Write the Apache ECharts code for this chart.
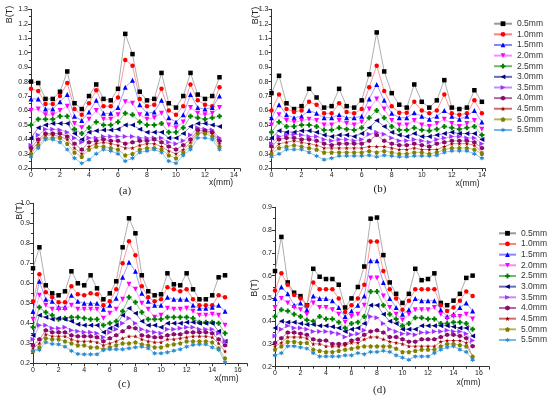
<!DOCTYPE html>
<html><head><meta charset="utf-8">
<script src="https://cdn.jsdelivr.net/npm/echarts@6/dist/echarts.min.js"></script>
<style>html,body{margin:0;padding:0;background:#fff}#c{width:550px;height:398px}</style>
</head><body><div id="c"></div>
<script>
const names = ['0.5mm','1.0mm','1.5mm','2.0mm','2.5mm','3.0mm','3.5mm','4.0mm','4.5mm','5.0mm','5.5mm'];

const xA = [0,0.5,1,1.5,2,2.5,3,3.5,4,4.5,5,5.5,6,6.5,7,7.5,8,8.5,9,9.5,10,10.5,11,11.5,12,12.5,13];
const xB = [0,0.5,1,1.5,2,2.5,3,3.5,4,4.5,5,5.5,6,6.5,7,7.5,8,8.5,9,9.5,10,10.5,11,11.5,12,12.5,13,13.5,14];
const xC = [0,0.5,1,1.5,2,2.5,3,3.5,4,4.5,5,5.5,6,6.5,7,7.5,8,8.5,9,9.5,10,10.5,11,11.5,12,12.5,13,13.5,14,14.5,15];
const xD = [0,0.5,1,1.5,2,2.5,3,3.5,4,4.5,5,5.5,6,6.5,7,7.5,8,8.5,9,9.5,10,10.5,11,11.5,12,12.5,13,13.5,14,14.5,15,15.5];

// panel (a)
const a05 = [0.80,0.79,0.68,0.68,0.73,0.87,0.65,0.61,0.70,0.78,0.68,0.67,0.75,1.13,0.99,0.73,0.67,0.68,0.86,0.65,0.62,0.70,0.86,0.71,0.68,0.70,0.83];
const a10 = [0.75,0.735,0.645,0.645,0.70,0.79,0.61,0.57,0.65,0.74,0.63,0.63,0.69,0.95,0.91,0.68,0.63,0.64,0.75,0.60,0.57,0.63,0.78,0.67,0.64,0.63,0.76];
const a15 = [0.68,0.68,0.61,0.61,0.66,0.71,0.56,0.53,0.59,0.67,0.58,0.58,0.62,0.76,0.81,0.64,0.58,0.59,0.67,0.55,0.52,0.57,0.71,0.62,0.61,0.62,0.70];
const a20 = [0.60,0.61,0.57,0.57,0.60,0.63,0.51,0.48,0.54,0.60,0.54,0.54,0.57,0.66,0.65,0.57,0.54,0.55,0.58,0.50,0.48,0.52,0.62,0.58,0.57,0.58,0.62];
const a25 = [0.50,0.54,0.54,0.54,0.56,0.56,0.47,0.44,0.48,0.52,0.50,0.50,0.52,0.58,0.57,0.52,0.50,0.50,0.51,0.45,0.45,0.48,0.56,0.55,0.54,0.55,0.56];
const a30 = [0.41,0.48,0.50,0.51,0.51,0.51,0.44,0.40,0.45,0.46,0.465,0.465,0.47,0.50,0.50,0.47,0.45,0.45,0.45,0.41,0.41,0.44,0.49,0.51,0.51,0.50,0.49];
const a35 = [0.36,0.43,0.47,0.47,0.465,0.45,0.41,0.38,0.41,0.41,0.42,0.42,0.42,0.42,0.42,0.41,0.41,0.41,0.41,0.38,0.37,0.39,0.43,0.48,0.47,0.465,0.41];
const a40 = [0.34,0.40,0.44,0.44,0.44,0.42,0.37,0.33,0.38,0.39,0.40,0.39,0.39,0.37,0.38,0.39,0.39,0.40,0.38,0.35,0.33,0.36,0.40,0.465,0.46,0.45,0.39];
const a45 = [0.32,0.38,0.43,0.43,0.42,0.40,0.34,0.30,0.35,0.37,0.38,0.37,0.36,0.34,0.34,0.36,0.37,0.37,0.35,0.32,0.30,0.33,0.38,0.45,0.45,0.44,0.37];
const a50 = [0.30,0.36,0.41,0.41,0.41,0.37,0.31,0.28,0.33,0.35,0.35,0.34,0.33,0.29,0.30,0.33,0.34,0.34,0.33,0.29,0.27,0.31,0.35,0.44,0.44,0.42,0.35];
const a55 = [0.28,0.34,0.40,0.40,0.38,0.33,0.27,0.235,0.26,0.30,0.33,0.32,0.30,0.25,0.27,0.31,0.32,0.33,0.31,0.25,0.235,0.29,0.33,0.41,0.41,0.40,0.33];

// panel (b)
const b05 = [0.72,0.84,0.65,0.61,0.63,0.75,0.69,0.62,0.63,0.75,0.63,0.62,0.67,0.85,1.14,0.87,0.72,0.64,0.62,0.78,0.66,0.62,0.67,0.81,0.62,0.61,0.62,0.74,0.66];
const b10 = [0.60,0.71,0.61,0.59,0.60,0.66,0.64,0.58,0.58,0.65,0.59,0.58,0.61,0.76,0.91,0.735,0.63,0.585,0.585,0.66,0.60,0.58,0.60,0.71,0.58,0.57,0.58,0.67,0.58];
const b15 = [0.55,0.64,0.57,0.55,0.56,0.60,0.58,0.55,0.55,0.57,0.55,0.55,0.56,0.68,0.78,0.67,0.58,0.55,0.55,0.585,0.56,0.54,0.56,0.60,0.56,0.54,0.56,0.60,0.52];
const b20 = [0.50,0.57,0.53,0.52,0.53,0.54,0.53,0.50,0.50,0.53,0.51,0.50,0.52,0.61,0.68,0.61,0.53,0.50,0.50,0.53,0.50,0.49,0.51,0.54,0.51,0.49,0.51,0.53,0.47];
const b25 = [0.45,0.52,0.49,0.49,0.50,0.50,0.49,0.465,0.465,0.48,0.47,0.465,0.48,0.55,0.60,0.55,0.49,0.465,0.465,0.48,0.465,0.46,0.47,0.49,0.48,0.47,0.48,0.49,0.43];
const b30 = [0.41,0.46,0.45,0.45,0.46,0.46,0.45,0.43,0.42,0.43,0.43,0.42,0.44,0.48,0.53,0.49,0.45,0.43,0.42,0.44,0.42,0.42,0.43,0.44,0.45,0.44,0.44,0.44,0.40];
const b35 = [0.37,0.42,0.43,0.435,0.43,0.42,0.42,0.40,0.39,0.40,0.40,0.39,0.40,0.435,0.45,0.435,0.41,0.39,0.39,0.40,0.39,0.38,0.40,0.41,0.42,0.42,0.41,0.41,0.37];
const b40 = [0.35,0.40,0.41,0.41,0.40,0.40,0.39,0.37,0.36,0.37,0.37,0.37,0.37,0.39,0.43,0.39,0.37,0.36,0.36,0.37,0.36,0.35,0.37,0.38,0.39,0.39,0.39,0.38,0.34];
const b45 = [0.32,0.37,0.38,0.39,0.38,0.37,0.36,0.34,0.34,0.34,0.34,0.34,0.34,0.35,0.35,0.35,0.34,0.33,0.33,0.34,0.33,0.33,0.33,0.35,0.37,0.37,0.37,0.36,0.31];
const b50 = [0.30,0.34,0.35,0.36,0.35,0.34,0.33,0.31,0.31,0.31,0.31,0.31,0.31,0.32,0.31,0.32,0.31,0.30,0.30,0.31,0.31,0.30,0.31,0.33,0.34,0.34,0.34,0.33,0.30];
const b55 = [0.28,0.30,0.33,0.33,0.33,0.31,0.285,0.26,0.27,0.285,0.285,0.285,0.285,0.29,0.28,0.29,0.285,0.28,0.28,0.285,0.285,0.285,0.29,0.31,0.32,0.32,0.32,0.30,0.27];

// panel (c)
const c05 = [0.675,0.78,0.59,0.55,0.54,0.56,0.66,0.60,0.59,0.64,0.575,0.52,0.55,0.61,0.78,0.925,0.85,0.64,0.56,0.54,0.545,0.65,0.595,0.59,0.65,0.57,0.52,0.52,0.54,0.63,0.64];
const c10 = [0.51,0.645,0.555,0.53,0.505,0.505,0.585,0.545,0.54,0.55,0.545,0.49,0.51,0.57,0.70,0.81,0.74,0.585,0.53,0.51,0.52,0.58,0.57,0.56,0.57,0.52,0.49,0.49,0.49,0.54,0.53];
const c15 = [0.46,0.61,0.52,0.51,0.48,0.48,0.54,0.51,0.50,0.50,0.50,0.47,0.49,0.525,0.63,0.705,0.66,0.55,0.51,0.49,0.49,0.53,0.52,0.52,0.52,0.49,0.475,0.475,0.48,0.49,0.46];
const c20 = [0.42,0.54,0.49,0.47,0.47,0.47,0.49,0.47,0.47,0.47,0.47,0.425,0.45,0.47,0.52,0.595,0.57,0.50,0.47,0.43,0.44,0.475,0.47,0.47,0.475,0.46,0.44,0.44,0.445,0.44,0.39];
const c25 = [0.38,0.48,0.455,0.44,0.42,0.425,0.43,0.43,0.425,0.42,0.42,0.39,0.40,0.41,0.46,0.53,0.505,0.455,0.42,0.42,0.42,0.43,0.43,0.43,0.43,0.425,0.405,0.405,0.405,0.40,0.35];
const c30 = [0.34,0.44,0.43,0.42,0.425,0.42,0.41,0.395,0.39,0.39,0.39,0.355,0.375,0.39,0.44,0.475,0.45,0.41,0.39,0.39,0.38,0.40,0.40,0.40,0.405,0.405,0.40,0.40,0.40,0.36,0.31];
const c35 = [0.32,0.39,0.39,0.375,0.375,0.38,0.365,0.36,0.355,0.355,0.35,0.33,0.355,0.37,0.40,0.425,0.40,0.37,0.36,0.355,0.35,0.37,0.37,0.375,0.38,0.38,0.37,0.37,0.37,0.35,0.31];
const c40 = [0.29,0.32,0.365,0.355,0.355,0.355,0.34,0.335,0.335,0.335,0.33,0.31,0.325,0.34,0.36,0.38,0.375,0.34,0.335,0.33,0.33,0.34,0.345,0.345,0.355,0.355,0.355,0.355,0.35,0.32,0.29];
const c45 = [0.275,0.30,0.345,0.335,0.335,0.335,0.32,0.31,0.31,0.31,0.305,0.29,0.30,0.31,0.325,0.335,0.335,0.32,0.31,0.305,0.305,0.32,0.32,0.325,0.33,0.335,0.335,0.335,0.33,0.30,0.26];
const c50 = [0.26,0.28,0.325,0.32,0.32,0.31,0.30,0.29,0.29,0.28,0.28,0.27,0.28,0.29,0.30,0.30,0.305,0.295,0.29,0.28,0.28,0.29,0.295,0.30,0.31,0.31,0.31,0.31,0.305,0.275,0.225];
const c55 = [0.263,0.267,0.305,0.297,0.295,0.283,0.262,0.247,0.245,0.245,0.245,0.267,0.27,0.27,0.27,0.275,0.28,0.283,0.275,0.25,0.25,0.255,0.263,0.27,0.283,0.292,0.295,0.295,0.28,0.267,0.205];

// panel (d)
const d05 = [0.62,0.77,0.57,0.525,0.51,0.47,0.63,0.595,0.585,0.585,0.56,0.46,0.50,0.55,0.64,0.85,0.855,0.69,0.57,0.52,0.48,0.52,0.63,0.58,0.585,0.61,0.48,0.47,0.49,0.52,0.59,0.60];
const d10 = [0.535,0.61,0.56,0.515,0.50,0.47,0.57,0.54,0.54,0.54,0.50,0.44,0.47,0.50,0.56,0.75,0.75,0.62,0.54,0.50,0.45,0.49,0.54,0.54,0.54,0.54,0.47,0.445,0.46,0.49,0.53,0.51];
const d15 = [0.50,0.55,0.52,0.47,0.48,0.45,0.51,0.50,0.50,0.49,0.46,0.42,0.445,0.47,0.51,0.665,0.665,0.57,0.50,0.46,0.43,0.45,0.50,0.49,0.49,0.49,0.45,0.42,0.43,0.46,0.48,0.445];
const d20 = [0.46,0.50,0.48,0.46,0.45,0.43,0.48,0.46,0.46,0.45,0.43,0.395,0.42,0.43,0.47,0.59,0.59,0.51,0.46,0.43,0.405,0.43,0.45,0.45,0.45,0.46,0.43,0.41,0.42,0.42,0.43,0.41];
const d25 = [0.42,0.45,0.445,0.43,0.42,0.405,0.40,0.42,0.41,0.41,0.395,0.37,0.39,0.395,0.42,0.53,0.53,0.47,0.43,0.41,0.38,0.39,0.415,0.415,0.41,0.41,0.39,0.39,0.395,0.395,0.39,0.365];
const d30 = [0.37,0.40,0.395,0.395,0.39,0.385,0.385,0.38,0.38,0.375,0.37,0.355,0.365,0.37,0.39,0.47,0.47,0.43,0.40,0.39,0.365,0.365,0.365,0.38,0.38,0.38,0.38,0.38,0.375,0.37,0.37,0.335];
const d35 = [0.335,0.365,0.38,0.37,0.37,0.365,0.355,0.355,0.355,0.35,0.345,0.33,0.34,0.345,0.36,0.42,0.415,0.39,0.365,0.355,0.345,0.345,0.34,0.35,0.35,0.355,0.355,0.36,0.355,0.355,0.345,0.315];
const d40 = [0.305,0.325,0.35,0.35,0.345,0.34,0.32,0.315,0.315,0.30,0.30,0.30,0.315,0.32,0.34,0.355,0.36,0.35,0.33,0.33,0.32,0.31,0.31,0.32,0.32,0.32,0.33,0.34,0.34,0.335,0.325,0.29];
const d45 = [0.29,0.305,0.33,0.33,0.33,0.325,0.30,0.30,0.29,0.29,0.29,0.295,0.305,0.305,0.32,0.33,0.33,0.32,0.31,0.305,0.30,0.29,0.29,0.29,0.29,0.29,0.31,0.315,0.315,0.315,0.305,0.245];
const d50 = [0.275,0.29,0.31,0.31,0.305,0.305,0.275,0.27,0.265,0.265,0.27,0.275,0.28,0.285,0.29,0.29,0.29,0.29,0.29,0.28,0.265,0.265,0.27,0.275,0.275,0.275,0.29,0.30,0.30,0.295,0.29,0.245];
const d55 = [0.25,0.26,0.29,0.29,0.285,0.28,0.26,0.245,0.245,0.245,0.245,0.25,0.25,0.26,0.255,0.265,0.265,0.27,0.265,0.25,0.24,0.23,0.245,0.245,0.245,0.26,0.275,0.285,0.29,0.275,0.265,0.23];

const panelX = [xA, xB, xC, xD];
const panelY = [
  [a05,a10,a15,a20,a25,a30,a35,a40,a45,a50,a55],
  [b05,b10,b15,b20,b25,b30,b35,b40,b45,b50,b55],
  [c05,c10,c15,c20,c25,c30,c35,c40,c45,c50,c55],
  [d05,d10,d15,d20,d25,d30,d35,d40,d45,d50,d55]
];

const markerColors = ['#000000','#ff0000','#0000ff','#ff00ff','#008000','#000080','#a030ff','#8b0a6b','#a00000','#808000','#2a8bd0'];
const lineColors = ['#999999','#ff7f7f','#8585ff','#ff88ff','#6cb86c','#6a6ab8','#c58aff','#b866a0','#d06a6a','#b8b860','#7ab9e6'];
const HEX = 'path://M5,0L9.33,2.5L9.33,7.5L5,10L0.67,7.5L0.67,2.5Z';
const PENT = 'path://M5,0L10,3.8L8.1,10L1.9,10L0,3.8Z';
const STAR = 'path://M5,0L6.2,3.6L10,3.6L6.9,5.9L8.1,9.5L5,7.3L1.9,9.5L3.1,5.9L0,3.6L3.8,3.6Z';
const PLUS = 'path://M3,0H7V3H10V7H7V10H3V7H0V3H3Z';
const FLOWER = 'path://M5,0L6.3,2.8L9.3,2.5L7.5,5L9.3,7.5L6.3,7.2L5,10L3.7,7.2L0.7,7.5L2.5,5L0.7,2.5L3.7,2.8Z';
const symbols = ['rect','circle','triangle','triangle',PLUS,'triangle','triangle',HEX,STAR,PENT,FLOWER];
const rotations = [0,0,0,180,0,90,-90,0,0,0,0];
const sizes = [4.5,4.5,5,5,5,5,5,4.5,4.5,4.5,5];

const FONT = 'Liberation Sans';
const grids = [
  {left:31, top:9.3, width:208.8, height:159},
  {left:271.5, top:9.3, width:213.4, height:159},
  {left:33, top:203.3, width:213.8, height:160},
  {left:275, top:207.3, width:214.2, height:159.4}
];
const xMax = [14.4, 14.2, 16.7, 16.8];
const yMin = [0.2, 0.2, 0.2, 0.2];
const yMax = [1.3, 1.3, 1.0, 0.9];

const axisCol = '#333';
const xAxes = [], yAxes = [];
for (let p = 0; p < 4; p++) {
  xAxes.push({
    gridIndex: p, type: 'value', min: 0, max: xMax[p], interval: 2,
    axisLine: {lineStyle: {color: axisCol, width: 1}},
    axisTick: {length: 3, lineStyle: {color: axisCol}},
    minorTick: {show: true, splitNumber: 2, length: 2, lineStyle: {color: axisCol}},
    splitLine: {show: false},
    axisLabel: {fontSize: 7, color: '#222', margin: 3, fontFamily: FONT, showMaxLabel: false}
  });
  yAxes.push({
    gridIndex: p, type: 'value', min: yMin[p], max: yMax[p], interval: 0.1,
    axisLine: {show: true, lineStyle: {color: axisCol, width: 1}},
    axisTick: {show: true, length: 3, lineStyle: {color: axisCol}},
    minorTick: {show: true, splitNumber: 2, length: 2, lineStyle: {color: axisCol}},
    splitLine: {show: false},
    axisLabel: {fontSize: 7, color: '#222', margin: 3, fontFamily: FONT, formatter: v => v.toFixed(1)}
  });
}

const series = [];
for (let p = 0; p < 4; p++) {
  for (let s = 0; s < 11; s++) {
    series.push({
      name: names[s], type: 'line', xAxisIndex: p, yAxisIndex: p,
      data: panelX[p].map((x, i) => [x, panelY[p][s][i]]),
      symbol: symbols[s], symbolRotate: rotations[s], symbolSize: sizes[s],
      showAllSymbol: true,
      itemStyle: {color: markerColors[s], borderWidth: 0},
      lineStyle: {color: lineColors[s], width: 0.8},
      emphasis: {disabled: true},
      z: 2
    });
  }
}

function txt(text, x, y, size, opts) {
  opts = opts || {};
  return {
    type: 'text', x: x, y: y, rotation: opts.rot || 0, z: 100,
    style: {
      text: text, fill: opts.color || '#222',
      font: (size) + 'px "' + (opts.family || FONT) + '"',
      align: 'center', verticalAlign: 'middle',
      textAlign: 'center', textVerticalAlign: 'middle'
    }
  };
}

const legendCommon = {
  data: names, orient: 'vertical', padding: 0, itemHeight: 6,
  textStyle: {fontSize: 8.5, color: '#333', fontFamily: FONT, lineHeight: 10},
  selectedMode: false
};

const option = {
  animation: false,
  backgroundColor: '#fff',
  grid: grids,
  xAxis: xAxes,
  yAxis: yAxes,
  series: series,
  legend: [
    Object.assign({}, legendCommon, {left: 493, top: 18.7, itemWidth: 18, itemGap: 0.63}),
    Object.assign({}, legendCommon, {left: 498, top: 228.3, itemWidth: 17, itemGap: 0.67})
  ],
  graphic: [
    txt('B(T)', 9.7, 14.5, 9, {rot: Math.PI / 2}),
    txt('B(T)', 255.3, 15.5, 9, {rot: Math.PI / 2}),
    txt('B(T)', 19.7, 211, 9, {rot: Math.PI / 2}),
    txt('B(T)', 255, 288, 9, {rot: Math.PI / 2}),
    txt('x(mm)', 221, 182.5, 8.5),
    txt('x(mm)', 467.5, 184, 8.5),
    txt('x(mm)', 226.5, 379, 8.5),
    txt('x(mm)', 468.5, 382.5, 8.5),
    txt('(a)', 125, 191, 11, {family: 'Liberation Serif'}),
    txt('(b)', 380, 189, 11, {family: 'Liberation Serif'}),
    txt('(c)', 124, 384, 11, {family: 'Liberation Serif'}),
    txt('(d)', 379.5, 390, 11, {family: 'Liberation Serif'})
  ]
};

const chart = echarts.init(document.getElementById('c'), null, {renderer: 'canvas'});
chart.setOption(option);
</script>
</body></html>
